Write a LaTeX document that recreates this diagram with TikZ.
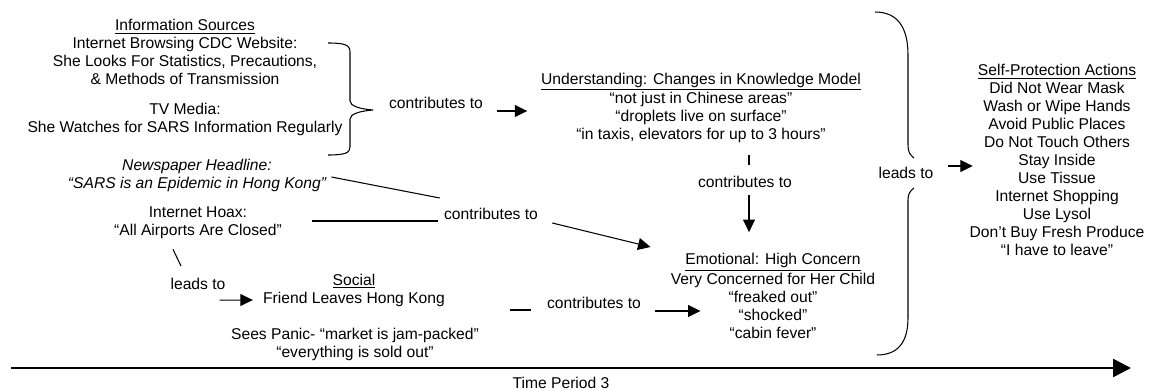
\documentclass[tikz,border=0pt]{standalone}
\usepackage{fontspec}
\setmainfont{Liberation Sans}
\usetikzlibrary{arrows.meta}
\tikzset{>={Triangle[length=2.5mm,width=2.4mm]}}
\tikzset{
  txt/.style={align=center,inner sep=0pt,font=\fontsize{8.9}{10.24}\selectfont},
  link/.style={line width=0.6pt},
  arr/.style={link,->}
}

\begin{document}
\begin{tikzpicture}[x=0.02cm,y=-0.02cm]
    \useasboundingbox (0,0) rectangle (1149,391);
    % sources on the left
    \node[txt] (src) at (185,52) {\underline{Information Sources}\\Internet Browsing CDC Website:\\She Looks For Statistics, Precautions,\\\& Methods of Transmission};
    \node[txt] (tv) at (185,119) {TV Media:\\She Watches for SARS Information Regularly};
    \node[txt,font=\fontsize{8.9}{10.24}\selectfont\itshape] (news) at (197,175) {Newspaper Headline:\\“SARS is an Epidemic in Hong Kong”};
    \node[txt] (hoax) at (198,223) {Internet Hoax:\\“All Airports Are Closed”};
    \node[txt] (lead1) at (198,284) {leads to};
    \node[txt] (soc) at (354,290) {\underline{Social}\\Friend Leaves Hong Kong};
    \node[txt] (panic) at (355,344) {Sees Panic- “market is jam-packed”\\“everything is sold out”};
    % middle
    \node[txt] (ctb1) at (436,103) {contributes to};
    \node[txt] (ctb2) at (491,214) {contributes to};
    \node[txt] (ctb3) at (594,303) {contributes to};
    \node[txt] (und) at (701,108) {\underline{Understanding: Changes in Knowledge Model}\\“not just in Chinese areas”\\“droplets live on surface”\\“in taxis, elevators for up to 3 hours”};
    \node[txt] (ctb4) at (745,182) {contributes to};
    \node[txt] (emo) at (773,296) {\underline{Emotional: High Concern}\\Very Concerned for Her Child\\“freaked out”\\“shocked”\\“cabin fever”};
    % right
    \node[txt] (lead2) at (906,173) {leads to};
    \node[txt] (act) at (1057,160) {\underline{Self-Protection Actions}\\Did Not Wear Mask\\Wash or Wipe Hands\\Avoid Public Places\\Do Not Touch Others\\Stay Inside\\Use Tissue\\Internet Shopping\\Use Lysol\\Don't Buy Fresh Produce\\“I have to leave”};
    \node[txt] (tp) at (561,383) {Time Period 3};

    % braces
    \draw[link] (328,43) .. controls (345,43) and (350,45) .. (350,52) -- (350,101)
      .. controls (350,106) and (360,109) .. (373,110)
      .. controls (360,111) and (350,114) .. (350,119) -- (350,147)
      .. controls (350,153) and (345,155) .. (328,155);
    \draw[link] (875,12) .. controls (898,12) and (908,28) .. (908,55) -- (908,145)
      .. controls (908,152) and (910,155) .. (914,158);
    \draw[link] (914,188) .. controls (910,191) and (908,194) .. (908,200) -- (908,318)
      .. controls (908,342) and (898,355) .. (877,355);

    % connectors
    \draw[arr] ([shift={(14,8)}]ctb1.east) -- ++(30,0);
    \draw[link] ([shift={(4,-11)}]ctb4.north) -- ++(0,-10);
    \draw[arr] ([shift={(4,7)}]ctb4.south) -- ++(0,37);
    \draw[link] ([shift={(5,2)}]news.east) -- ([shift={(-4,-16)}]ctb2.west);
    \draw[link] ([shift={(30,-2)}]hoax.east) -- ([shift={(-6,7)}]ctb2.west);
    \draw[arr] ([shift={(14,9)}]ctb2.east) -- ([shift={(-20,-6)}]emo.north west);
    \draw[link] ([shift={(-25,10)}]hoax.south) -- ([shift={(-17,-12)}]lead1.north);
    \draw[arr] ([shift={(-6,10)}]lead1.south east) -- ([shift={(-10,10)}]soc.west);
    \draw[link] ([shift={(65,20)}]soc.east) -- ([shift={(-16,7)}]ctb3.west);
    \draw[arr] ([shift={(14,8)}]ctb3.east) -- ([shift={(30,15)}]emo.west);
    \draw[arr] ([shift={(14,-7)}]lead2.east) -- ++(25,0);

    % time line
    \coordinate (t0) at (11,368);
    \coordinate (t1) at (1131,368);
    \draw[line width=1.5pt,-{Triangle[length=3.6mm,width=3.6mm]}] (t0) -- (t1);
\end{tikzpicture}
\end{document}
